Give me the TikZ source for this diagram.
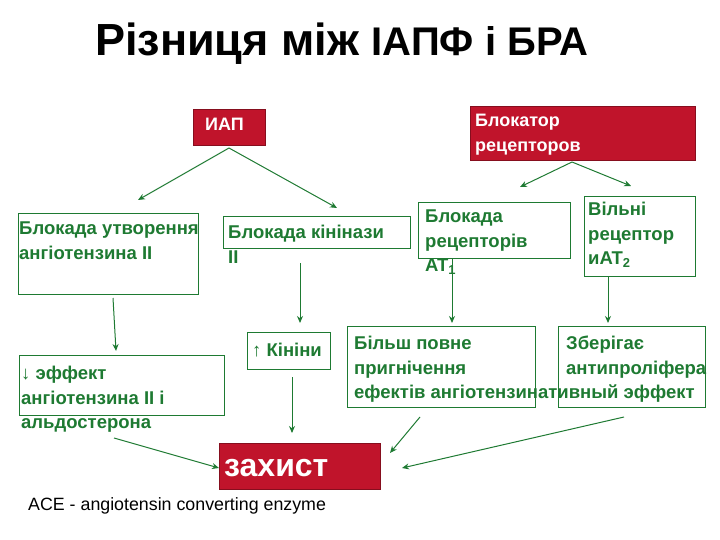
\documentclass[tikz,border=0pt]{standalone}
\usepackage{fontspec}
\setmainfont{Liberation Sans}
\usetikzlibrary{arrows.meta}
\definecolor{gr}{HTML}{1E7A32}
\definecolor{rd}{HTML}{C0142B}
\begin{document}
\begin{tikzpicture}[x=1pt,y=-1pt,
  box/.style={draw=gr,line width=0.8pt,anchor=north west,inner sep=0pt},
  rbox/.style={fill=rd,draw=rd!70!black,anchor=north west,inner sep=0pt},
  txt/.style={anchor=north west,text=gr,font=\bfseries\fontsize{18.5}{24.5}\selectfont,align=left,inner sep=0pt},
  wtxt/.style={anchor=north west,text=white,font=\bfseries\fontsize{18}{24.5}\selectfont,align=left,inner sep=0pt},
  arr/.style={draw=gr,line width=1pt,-{Stealth[length=7pt,width=6pt]}}]
\useasboundingbox (0,0) rectangle (720,540);
\node[anchor=west,font=\bfseries\fontsize{45}{52}\selectfont,inner sep=0pt] (title) at (95,44) {Різниця між \fontsize{40}{46}\selectfont ІАПФ і БРА};
% top red boxes
\node[rbox,minimum width=72pt,minimum height=36pt] (iap) at (193,109) {};
\node[wtxt] (iapt) at (205,118) {ИАП};
\node[rbox,minimum width=225pt,minimum height=54pt] (blk) at (470,106) {};
\node[wtxt] (blkt) at (475,114) {Блокатор\\рецепторов};
% second row
\node[box,minimum width=180pt,minimum height=81pt] (a) at (18,213) {};
\node[txt] (at) at (19,222) {Блокада утворення\\ангіотензина II};
\node[box,minimum width=187pt,minimum height=32pt] (b) at (223,216) {};
\node[txt] (bt) at (228,225) {Блокада кінінази\\II};
\node[box,minimum width=152pt,minimum height=56pt] (c) at (418,202) {};
\node[txt] (ct) at (425,210) {Блокада\\рецепторів\\AT\textsubscript{1}};
\node[box,minimum width=111pt,minimum height=80pt] (d) at (584,196) {};
\node[txt] (dt) at (588,202) {Вільні\\рецептор\\иAT\textsubscript{2}};
% third row
\node[box,minimum width=205pt,minimum height=60pt] (e) at (19,355) {};
\node[txt] (et) at (21,366) {↓ эффект\\ангіотензина II і\\альдостерона};
\node[box,minimum width=83pt,minimum height=37pt] (f) at (247,332) {};
\node[txt] (ft) at (252,343) {↑ Кініни};
\node[box,minimum width=188pt,minimum height=81pt] (g) at (347,326) {};
\node[txt] (gt) at (354,336) {Більш повне\\пригнічення\\ефектів ангіотензинативный эффект};
\node[box,minimum width=147pt,minimum height=81pt] (h) at (558,326) {};
\node[txt] (ht) at (566,336) {Зберігає\\антипроліфера};
% protection
\node[rbox,minimum width=161pt,minimum height=46pt] (z) at (219,443) {};
\node[anchor=west,text=white,font=\bfseries\fontsize{32}{36}\selectfont,inner sep=0pt] (zt) at (224,468) {захист};
\node[anchor=west,font=\fontsize{17.8}{20}\selectfont,inner sep=0pt] (foot) at (28,506) {ACE - angiotensin converting enzyme};
% coordinates
\coordinate (p1) at (229,148); \coordinate (a1) at (138,200); \coordinate (b1) at (337,208);
\coordinate (p2) at (572,162); \coordinate (c1) at (520,187); \coordinate (d1) at (631,186);
\coordinate (qa) at (113,298); \coordinate (ea) at (116,351);
\coordinate (qb) at (300,263); \coordinate (fb) at (300,323);
\coordinate (qc) at (452,258); \coordinate (gc) at (452,323);
\coordinate (qd) at (608,276); \coordinate (hd) at (608,323);
\coordinate (qe) at (114,438); \coordinate (ze) at (219,468);
\coordinate (qf) at (292,377); \coordinate (zf) at (292,433);
\coordinate (qg) at (420,417); \coordinate (zg) at (390,453);
\coordinate (qh) at (624,417); \coordinate (zh) at (402,468);
\draw[arr] (p1) -- (a1); \draw[arr] (p1) -- (b1);
\draw[arr] (p2) -- (c1); \draw[arr] (p2) -- (d1);
\draw[arr] (qa) -- (ea); \draw[arr] (qb) -- (fb); \draw[arr] (qc) -- (gc); \draw[arr] (qd) -- (hd);
\draw[arr] (qe) -- (ze); \draw[arr] (qf) -- (zf); \draw[arr] (qg) -- (zg); \draw[arr] (qh) -- (zh);
\end{tikzpicture}
\end{document}
